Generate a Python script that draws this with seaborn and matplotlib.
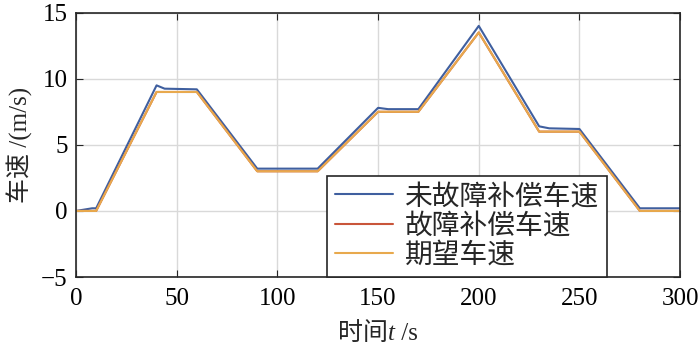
import matplotlib
matplotlib.use("Agg")
import matplotlib.pyplot as plt
from matplotlib.offsetbox import TextArea, HPacker, AnchoredOffsetbox
import numpy as np
import pandas as pd
import seaborn as sns

# 未故障补偿车速
t_nofault = [0, 8, 10, 40, 44, 60, 90, 120, 150, 155, 170, 200, 230, 235, 250, 280, 300]
v_nofault = [0, 0.2, 0.2, 9.5, 9.25, 9.2, 3.2, 3.2, 7.8, 7.7, 7.7, 14.0, 6.4, 6.25, 6.2, 0.2, 0.2]
# 故障补偿车速
t_fault = [0, 10, 40, 60, 90, 120, 150, 170, 200, 230, 250, 280, 300]
v_fault = [0, 0, 9.0, 9.0, 3.0, 3.0, 7.5, 7.5, 13.5, 6.0, 6.0, 0, 0]
# 期望车速
t_ref = [0, 10, 40, 60, 90, 120, 150, 170, 200, 230, 250, 280, 300]
v_ref = [0, 0, 9.0, 9.0, 3.0, 3.0, 7.5, 7.5, 13.5, 6.0, 6.0, 0, 0]

names = ["未故障补偿车速", "故障补偿车速", "期望车速"]
colors = ["#3f5f9f", "#c9553a", "#e8a94d"]

df = pd.concat([
    pd.DataFrame({"t": t_nofault, "v": v_nofault, "s": names[0]}),
    pd.DataFrame({"t": t_fault, "v": v_fault, "s": names[1]}),
    pd.DataFrame({"t": t_ref, "v": v_ref, "s": names[2]}),
])

sns.set_style("white")
fonts = ["Liberation Serif", "Noto Sans CJK SC"]
plt.rcParams["font.family"] = fonts
plt.rcParams["axes.unicode_minus"] = True

fig = plt.figure(figsize=(7, 3.52), dpi=100)
ax = fig.add_axes([0.1086, 0.213, 0.863, 0.751])

sns.lineplot(data=df, x="t", y="v", hue="s", palette=colors, estimator=None,
             sort=False, linewidth=1.5, ax=ax)

ax.set_xlim(0, 300)
ax.set_ylim(-5, 15)
ax.set_xticks(np.arange(0, 301, 50))
ax.set_yticks(np.arange(-5, 16, 5))
ax.grid(True, color="#d9d9d9", linewidth=1)
ax.set_axisbelow(True)
for sp in ax.spines.values():
    sp.set_visible(True)
    sp.set_color("#262626")
    sp.set_linewidth(1.2)
ax.tick_params(direction="in", length=5, labelsize=18, colors="#262626",
               labelcolor="black", top=True, right=True, bottom=True, left=True)
ax.tick_params(axis="x", pad=8)
ax.tick_params(axis="y", pad=6)
ax.set_xlabel("")
ax.set_ylabel("车速 /(m/s)", fontsize=18, labelpad=6)

# x label: 时间 t /s with italic t
tp = dict(fontsize=18, family=fonts)
parts = [TextArea("时间", textprops=tp),
         TextArea("t", textprops=dict(tp, style="italic")),
         TextArea(" /s", textprops=tp)]
box = HPacker(children=parts, align="baseline", pad=0, sep=0)
anc = AnchoredOffsetbox(loc="upper center", child=box, pad=0, frameon=False,
                        bbox_to_anchor=(0.5, -0.17), bbox_transform=ax.transAxes,
                        borderpad=0)
ax.add_artist(anc)

leg = ax.legend(loc="lower right", bbox_to_anchor=(0.879, 0.0), fontsize=20,
                frameon=True, fancybox=False, handlelength=2.1, borderpad=0.3,
                labelspacing=0.12, handletextpad=0.4, borderaxespad=0)
leg.get_frame().set_edgecolor("#262626")
leg.get_frame().set_linewidth(1.2)
leg.get_frame().set_alpha(1)

fig.savefig("out.png", dpi=100)
